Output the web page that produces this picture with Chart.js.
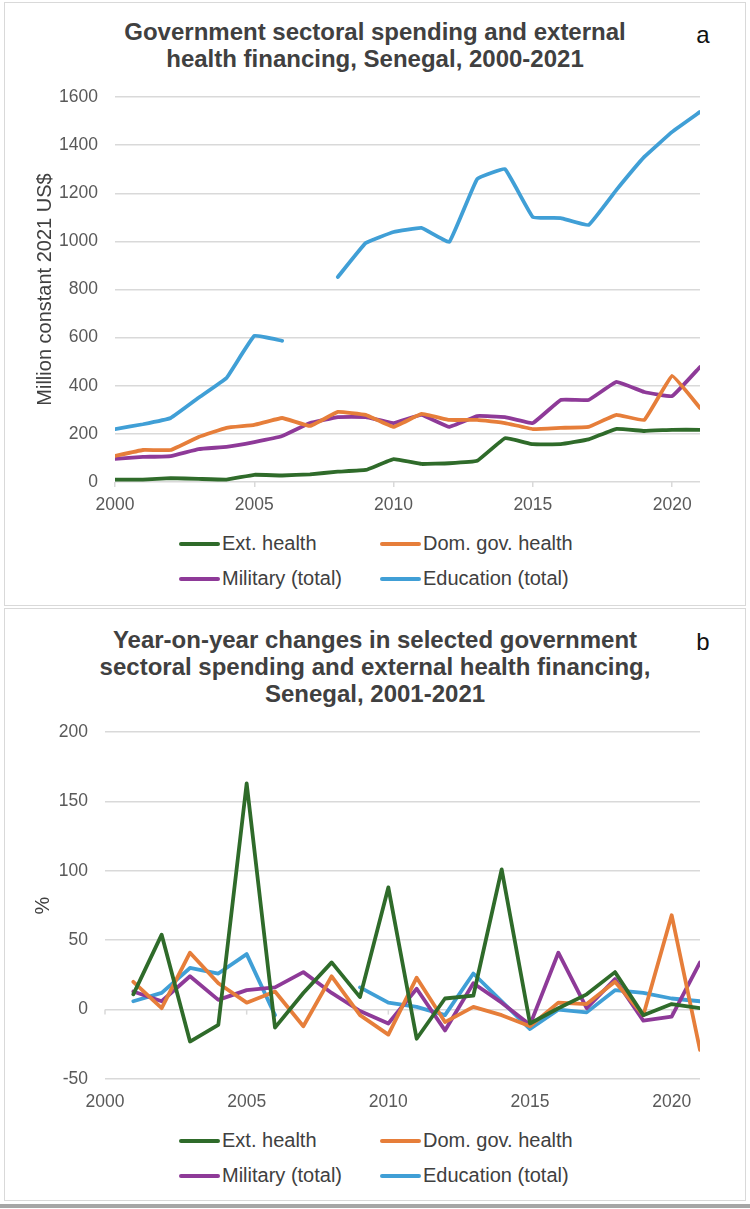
<!DOCTYPE html>
<html>
<head>
<meta charset="utf-8">
<script src="https://cdn.jsdelivr.net/npm/chart.js@4.4.1/dist/chart.umd.min.js"></script>
<style>
  body { margin: 0; width: 750px; height: 1209px; position: relative; background: #fff; overflow: hidden;
    font-family: "Liberation Sans", Arial, sans-serif; }
  .panel { position: absolute; left: 4px; width: 742px; border: 1px solid #d9d9d9; box-sizing: border-box; }
  .title { position: absolute; left: 0; width: 750px; text-align: center; font-weight: bold; font-size: 24px;
    line-height: 27px; color: #404040; }
  .tag { position: absolute; left: 690px; width: 26px; text-align: center; font-size: 24px; color: #111; }
  canvas { position: absolute; left: 0; }
  .legend { position: absolute; left: 0; width: 750px; }
  .item { position: absolute; height: 24px; font-size: 20px; line-height: 24px; color: #404040; white-space: nowrap; }
  .item span.sw { display: inline-block; width: 41px; height: 4px; border-radius: 2px; vertical-align: middle;
    margin-right: 2px; position: relative; top: -1px; }
  .bar { position: absolute; left: 0; top: 1204px; width: 750px; height: 4px; background: #a6a6a6; }
</style>
</head>
<body>
<div class="panel" style="top:2px;height:604px"></div>
<div class="panel" style="top:608px;height:593px"></div>
<div class="bar"></div>

<div class="title" style="top:18px">Government sectoral spending and external<br>health financing, Senegal, 2000-2021</div>
<div class="tag" style="top:21px">a</div>
<canvas id="chart_a" width="750" height="525" style="top:0"></canvas>
<div class="legend" id="legend_a" style="top:531px"></div>

<div class="title" style="top:626px">Year-on-year changes in selected government<br>sectoral spending and external health financing,<br>Senegal, 2001-2021</div>
<div class="tag" style="top:628px">b</div>
<canvas id="chart_b" width="750" height="514" style="top:608px"></canvas>
<div class="legend" id="legend_b" style="top:1128px"></div>

<script>
// panel a: million constant 2021 US$
const years = [2000, 2001, 2002, 2003, 2004, 2005, 2006, 2007, 2008, 2009, 2010,
  2011, 2012, 2013, 2014, 2015, 2016, 2017, 2018, 2019, 2020, 2021]
const extHealth = [10, 10, 16, 13, 10, 30, 27, 32, 43, 50, 95, 75, 78, 88, 182, 157, 157, 177, 221, 212, 217, 217]
const domGovHealth = [108, 133, 133, 187, 225, 237, 266, 233, 291, 279, 229, 283, 258, 258, 245, 220, 225, 229, 279, 258, 441, 308]
const military = [96, 104, 108, 137, 146, 166, 191, 245, 270, 270, 245, 279, 229, 274, 270, 245, 341, 341, 416, 374, 357, 478]
const education = [220, 240, 266, 350, 432, 607, 587, null, 852, 993, 1039, 1056, 998, 1259, 1300, 1101, 1097, 1068, 1214, 1351, 1455, 1538]

// panel b: year-on-year change, %
const yoyYears = [2001, 2002, 2003, 2004, 2005, 2006, 2007, 2008, 2009, 2010,
  2011, 2012, 2013, 2014, 2015, 2016, 2017, 2018, 2019, 2020, 2021]
const yoyExt = [11, 54, -23, -11, 163, -13, 12, 34, 9, 88, -21, 8, 10, 101, -10, 1, 11, 27, -4, 4, 1]
const yoyDom = [20, 1, 41, 19, 5, 13, -12, 24, -4, -18, 23, -9, 2, -4, -12, 5, 4, 20, -4, 68, -29]
const yoyMil = [13, 6, 24, 7, 14, 16, 27, 12, -1, -10, 15, -15, 19, 5, -11, 41, 1, 22, -8, -5, 34]
const yoyEdu = [6, 12, 30, 26, 40, -4, null, null, 16, 5, 2, -4, 26, 6, -14, 0, -2, 14, 12, 8, 6]

const xTicks = [2000, 2005, 2010, 2015, 2020]
const seriesNames = ['Ext. health', 'Dom. gov. health', 'Military (total)', 'Education (total)']
const seriesColors = ['#2f6b2a', '#e67e3a', '#8e3a98', '#409fd6']

const tickFont = { family: '"Liberation Sans", Arial, sans-serif', size: 17.5 }
const tickColor = '#595959'
const gridColor = '#d9d9d9'

function toPoints(xs, vals) {
  return xs.map((x, i) => ({ x: x, y: vals[i] }))
}

function makeDatasets(xs, arrays, tension) {
  return arrays.map((vals, i) => ({
    label: seriesNames[i],
    data: toPoints(xs, vals),
    borderColor: seriesColors[i],
    backgroundColor: seriesColors[i],
    borderWidth: 3.8,
    borderJoinStyle: 'round',
    borderCapStyle: 'round',
    pointRadius: 0,
    tension: tension,
    spanGaps: false,
  }))
}

function makeOptions(yMin, yMax, yStep, yTitle, titlePad, yWidth, padTop, xDrawTicks) {
  return {
    responsive: false,
    animation: false,
    devicePixelRatio: 1,
    layout: { padding: { top: padTop, right: 50, bottom: 0, left: 0 } },
    plugins: { legend: { display: false }, tooltip: { enabled: false } },
    scales: {
      x: {
        type: 'linear',
        min: 2000,
        max: 2021,
        afterBuildTicks: (scale) => { scale.ticks = xTicks.map(v => ({ value: v })) },
        afterFit: (scale) => { scale.height = 43 },
        ticks: { font: tickFont, color: tickColor, padding: xDrawTicks ? 8 : 13, maxRotation: 0,
          callback: (v) => String(v) },
        grid: { drawOnChartArea: false, drawTicks: xDrawTicks, tickLength: 5, color: gridColor, lineWidth: 1.5 },
        border: { display: false },
      },
      y: {
        min: yMin,
        max: yMax,
        afterFit: (scale) => { scale.width = yWidth },
        ticks: { stepSize: yStep, font: tickFont, color: tickColor, padding: 17,
          callback: (v) => String(v) },
        grid: { color: gridColor, lineWidth: 1.5, drawTicks: false },
        border: { display: false },
        title: {
          display: true,
          text: yTitle,
          color: '#404040',
          font: { family: '"Liberation Sans", Arial, sans-serif', size: 20 },
          padding: { top: titlePad, bottom: 0 },
        },
      },
    },
  }
}

// small tick marks on the zero line (panel b, axis crosses at 0)
const zeroTicks = {
  id: 'zeroTicks',
  beforeDatasetsDraw(chart) {
    const { ctx, scales } = chart
    const y0 = scales.y.getPixelForValue(0)
    ctx.save()
    ctx.strokeStyle = gridColor
    ctx.lineWidth = 1.5
    xTicks.forEach(v => {
      const px = scales.x.getPixelForValue(v)
      ctx.beginPath()
      ctx.moveTo(px, y0)
      ctx.lineTo(px, y0 + 5)
      ctx.stroke()
    })
    ctx.restore()
  }
}

const config_a = {
  type: 'line',
  data: { datasets: makeDatasets(years, [extHealth, domGovHealth, military, education], 0.08) },
  options: makeOptions(0, 1600, 200, 'Million constant 2021 US$', 33, 115, 97, true),
}
const chart_a = new Chart(document.getElementById('chart_a'), config_a)

const config_b = {
  type: 'line',
  data: { datasets: makeDatasets(yoyYears, [yoyExt, yoyDom, yoyMil, yoyEdu], 0) },
  options: makeOptions(-50, 200, 50, '%', 31, 105, 124, false),
  plugins: [zeroTicks],
}
const chart_b = new Chart(document.getElementById('chart_b'), config_b)

// legend, two columns like the original
function buildLegend(id) {
  const div = document.getElementById(id)
  const cols = [179, 380]
  seriesNames.forEach((name, i) => {
    const item = document.createElement('div')
    item.className = 'item'
    item.style.left = cols[i % 2] + 'px'
    item.style.top = (Math.floor(i / 2) * 35) + 'px'
    item.innerHTML = '<span class="sw" style="background:' + seriesColors[i] + '"></span>' + name
    div.appendChild(item)
  })
}
buildLegend('legend_a')
buildLegend('legend_b')
</script>
</body>
</html>
